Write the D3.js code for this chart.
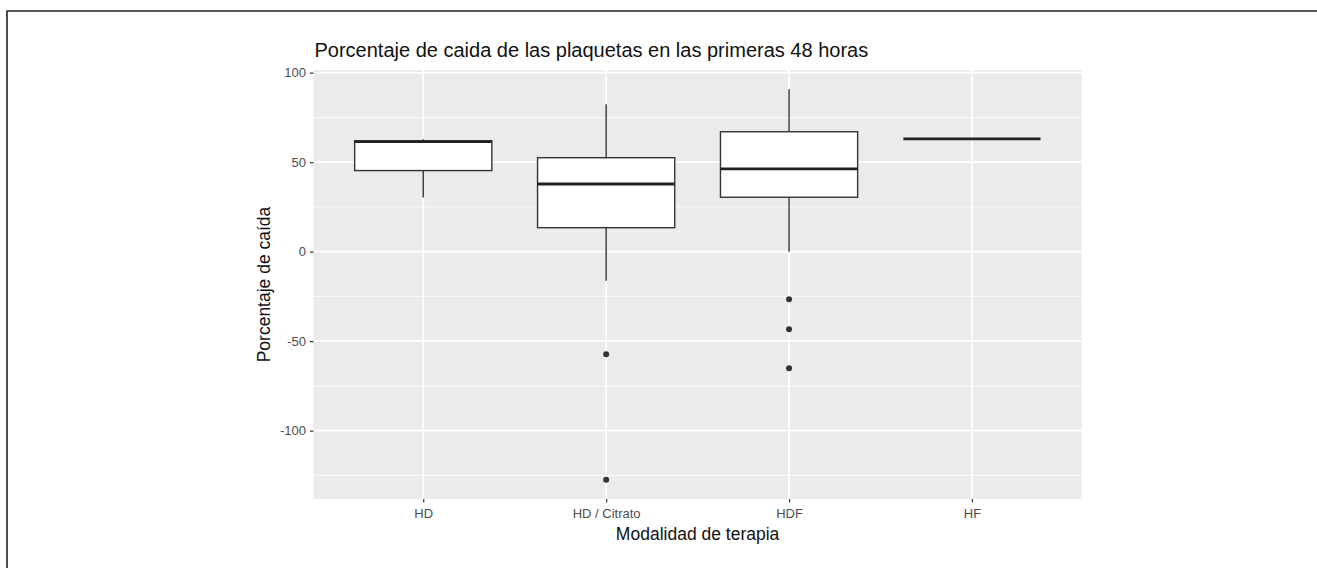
<!DOCTYPE html>
<html>
<head>
<meta charset="utf-8">
<script src="https://cdn.jsdelivr.net/npm/d3@7"></script>
<style>
  body { margin: 0; background: #fff; }
  text { font-family: "Liberation Sans", Arial, sans-serif; }
</style>
</head>
<body>
<div id="canvas"></div>
<script>
"use strict"

// values
let categories = ["HD", "HD / Citrato", "HDF", "HF"];
let whiskerLow  = [30.2, -16.2, 0.0, 63];
let lowerQuart  = [45.3, 13.4, 30.4, 63];
let medians     = [61.5, 37.8, 46.2, 63];
let upperQuart  = [61.9, 52.5, 67.0, 63];
let whiskerHigh = [62.8, 82.3, 90.7, 63];
let outliers    = [[], [-57.3, -127.4], [-26.6, -43.4, -65.1], []];
let yTicks      = [-100, -50, 0, 50, 100];
let yMinor      = [-125, -75, -25, 25, 75];

let drawing = d3.select("#canvas")
    .append("svg")
    .attr("width", 1317)
    .attr("height", 568);

// frame around the figure
let frame = drawing.append("path")
    .attr("d", "M7,568 L7,11 L1317,11")
    .attr("fill", "none")
    .attr("stroke", "#222")
    .attr("stroke-width", 1.6);

let panelLeft = 313.5, panelRight = 1081.7, panelTop = 70, panelBottom = 499;

// ggplot expands discrete axis by 0.6 units on each side
let x = d3.scalePoint()
    .domain(categories)
    .range([panelLeft, panelRight])
    .padding(0.6);

let step = x.step();

let y = d3.scaleLinear()
    .domain([-138.2, 101.5])
    .range([panelBottom, panelTop]);

// grey panel
drawing.append("rect")
    .attr("x", panelLeft)
    .attr("y", panelTop)
    .attr("width", panelRight - panelLeft)
    .attr("height", panelBottom - panelTop)
    .attr("fill", "#ebebeb");

// minor grid
drawing.selectAll(".minor")
    .data(yMinor)
    .enter().append("line")
    .attr("x1", panelLeft).attr("x2", panelRight)
    .attr("y1", d => y(d)).attr("y2", d => y(d))
    .attr("stroke", "#fff")
    .attr("stroke-width", 0.8);

// major grid
drawing.selectAll(".major")
    .data(yTicks)
    .enter().append("line")
    .attr("x1", panelLeft).attr("x2", panelRight)
    .attr("y1", d => y(d)).attr("y2", d => y(d))
    .attr("stroke", "#fff")
    .attr("stroke-width", 1.7);

drawing.selectAll(".vgrid")
    .data(categories)
    .enter().append("line")
    .attr("x1", d => x(d)).attr("x2", d => x(d))
    .attr("y1", panelTop).attr("y2", panelBottom)
    .attr("stroke", "#fff")
    .attr("stroke-width", 1.7);

// axes
let yAxis = drawing.append("g")
    .attr("transform", "translate(" + panelLeft + ",0)")
    .call(d3.axisLeft(y).tickValues(yTicks).tickFormat(d => String(d)).tickSize(3.5).tickPadding(4));

let xAxis = drawing.append("g")
    .attr("transform", "translate(0," + panelBottom + ")")
    .call(d3.axisBottom(x).tickSize(3.5).tickPadding(6));

drawing.selectAll(".domain").remove();
drawing.selectAll(".tick line").attr("stroke", "#333").attr("stroke-width", 1.2);
drawing.selectAll(".tick text")
    .attr("fill", "#4d4d4d")
    .style("font-size", "13px")
    .style("font-family", "'Liberation Sans', Arial, sans-serif");

// boxes
let boxWidth = step * 0.75;
let boxes = drawing.selectAll(".box")
    .data(categories)
    .enter().append("g");

boxes.append("line")
    .attr("x1", d => x(d)).attr("x2", d => x(d))
    .attr("y1", (d, i) => y(whiskerHigh[i]))
    .attr("y2", (d, i) => y(upperQuart[i]))
    .attr("stroke", "#333")
    .attr("stroke-width", 1.4);

boxes.append("line")
    .attr("x1", d => x(d)).attr("x2", d => x(d))
    .attr("y1", (d, i) => y(lowerQuart[i]))
    .attr("y2", (d, i) => y(whiskerLow[i]))
    .attr("stroke", "#333")
    .attr("stroke-width", 1.4);

boxes.append("rect")
    .attr("x", d => x(d) - boxWidth / 2)
    .attr("width", boxWidth)
    .attr("y", (d, i) => y(upperQuart[i]))
    .attr("height", (d, i) => y(lowerQuart[i]) - y(upperQuart[i]))
    .attr("fill", "#fff")
    .attr("stroke", "#333")
    .attr("stroke-width", 1.4);

boxes.append("line")
    .attr("x1", d => x(d) - boxWidth / 2)
    .attr("x2", d => x(d) + boxWidth / 2)
    .attr("y1", (d, i) => y(medians[i]))
    .attr("y2", (d, i) => y(medians[i]))
    .attr("stroke", "#222")
    .attr("stroke-width", 2.8);

// outliers
categories.forEach((c, i) => {
    drawing.selectAll(".out" + i)
        .data(outliers[i])
        .enter().append("circle")
        .attr("cx", x(c))
        .attr("cy", d => y(d))
        .attr("r", 3)
        .attr("fill", "#333");
});

// titles
drawing.append("text")
    .attr("x", panelLeft + 1)
    .attr("y", 57)
    .attr("fill", "#111")
    .style("font-size", "20px")
    .text("Porcentaje de caida de las plaquetas en las primeras 48 horas");

drawing.append("text")
    .attr("x", (panelLeft + panelRight) / 2)
    .attr("y", 540)
    .attr("text-anchor", "middle")
    .attr("fill", "#111")
    .style("font-size", "17.5px")
    .text("Modalidad de terapia");

drawing.append("text")
    .attr("transform", "translate(270," + (panelTop + panelBottom) / 2 + ") rotate(-90)")
    .attr("text-anchor", "middle")
    .attr("fill", "#111")
    .style("font-size", "17.5px")
    .text("Porcentaje de caída");
</script>
</body>
</html>
